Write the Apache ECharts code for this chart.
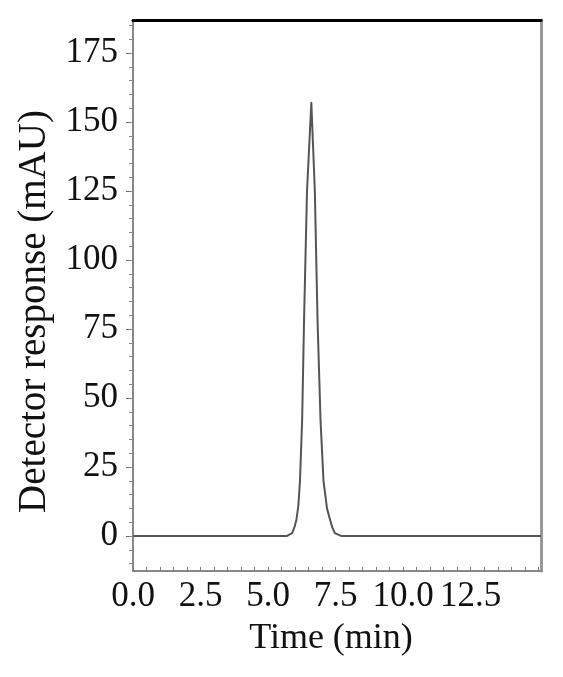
<!DOCTYPE html>
<html>
<head>
<meta charset="utf-8">
<script src="https://cdn.jsdelivr.net/npm/echarts@6/dist/echarts.min.js"></script>
<style>
  html, body { margin: 0; padding: 0; background: #fff; }
  #chart { width: 563px; height: 677px; }
</style>
</head>
<body>
<div id="chart"></div>
<script>
// 色谱峰数据
var times = [0, 5.7, 5.89, 5.97, 6.05, 6.12, 6.18, 6.26, 6.33, 6.44, 6.6, 6.73, 6.83, 6.94, 7.05, 7.18, 7.29, 7.38, 7.47, 7.7, 15.1];
var response = [0, 0, 1, 3, 6, 11, 20, 42, 78, 125, 157, 125, 78, 42, 20, 10, 6, 3, 1, 0, 0];

var xLabels = [0, 2.5, 5, 7.5, 10, 12.5];
var xMinor = [0, 0.5, 1, 1.5, 2, 2.5, 3, 3.5, 4, 4.5, 5, 5.5, 6, 6.5, 7, 7.5, 8, 8.5, 9, 9.5, 10, 10.5, 11, 11.5, 12, 12.5, 13, 13.5, 14, 14.5, 15];
var yLabels = [0, 25, 50, 75, 100, 125, 150, 175];
var yMinor = [-10, -5, 0, 5, 10, 15, 20, 25, 30, 35, 40, 45, 50, 55, 60, 65, 70, 75, 80, 85, 90, 95, 100, 105, 110, 115, 120, 125, 130, 135, 140, 145, 150, 155, 160, 165, 170, 175, 180, 185];

var xMin = 0, xMax = 15.1;
var yMin = -12.7, yMax = 187;

var font = 'Liberation Serif';
var chart = echarts.init(document.getElementById('chart'));

var option = {
    animation: false,
    backgroundColor: '#fff',
    grid: { left: 133, right: 22, top: 20, bottom: 106 },
    xAxis: [{
        type: 'value',
        min: xMin, max: xMax,
        name: 'Time (min)',
        nameLocation: 'middle',
        nameGap: 50,
        nameTextStyle: { fontFamily: font, fontSize: 36, color: '#111', padding: [0, 12, 0, 0] },
        axisLine: { show: true, onZero: false, lineStyle: { color: '#888', width: 2 } },
        axisTick: { show: true, inside: true, length: 4, customValues: xMinor, lineStyle: { color: '#777' } },
        axisLabel: {
            customValues: xLabels,
            fontFamily: font, fontSize: 35, color: '#111', margin: 8,
            formatter: function(v) { return v.toFixed(1); }
        },
        splitLine: { show: false }
    }, {
        type: 'value',
        position: 'top',
        min: xMin, max: xMax,
        axisLine: { show: true, onZero: false, lineStyle: { color: '#000', width: 3 } },
        axisTick: { show: false },
        axisLabel: { show: false },
        splitLine: { show: false }
    }],
    yAxis: [{
        type: 'value',
        min: yMin, max: yMax,
        name: 'Detector response (mAU)',
        nameLocation: 'middle',
        nameGap: 71,
        nameTextStyle: { fontFamily: font, fontSize: 39, color: '#111', padding: [0, 32, 0, 0] },
        axisLine: { show: true, onZero: false, lineStyle: { color: '#888', width: 2 } },
        axisTick: { show: true, length: 7, customValues: yLabels, lineStyle: { color: '#666' } },
        axisLabel: {
            customValues: yLabels,
            fontFamily: font, fontSize: 35, color: '#111', margin: 15
        },
        splitLine: { show: false }
    }, {
        type: 'value',
        position: 'left',
        min: yMin, max: yMax,
        axisLine: { show: false, onZero: false },
        axisTick: { show: true, length: 4, customValues: yMinor, lineStyle: { color: '#888' } },
        axisLabel: { show: false },
        splitLine: { show: false }
    }, {
        type: 'value',
        position: 'right',
        min: yMin, max: yMax,
        axisLine: { show: true, onZero: false, lineStyle: { color: '#999', width: 3 } },
        axisTick: { show: false },
        axisLabel: { show: false },
        splitLine: { show: false }
    }],
    series: [{
        type: 'line',
        xAxisIndex: 0,
        yAxisIndex: 0,
        data: times.map(function(t, i) { return [t, response[i]]; }),
        showSymbol: false,
        lineStyle: { color: '#555', width: 2, join: 'round' }
    }]
};
chart.setOption(option);
</script>
</body>
</html>
